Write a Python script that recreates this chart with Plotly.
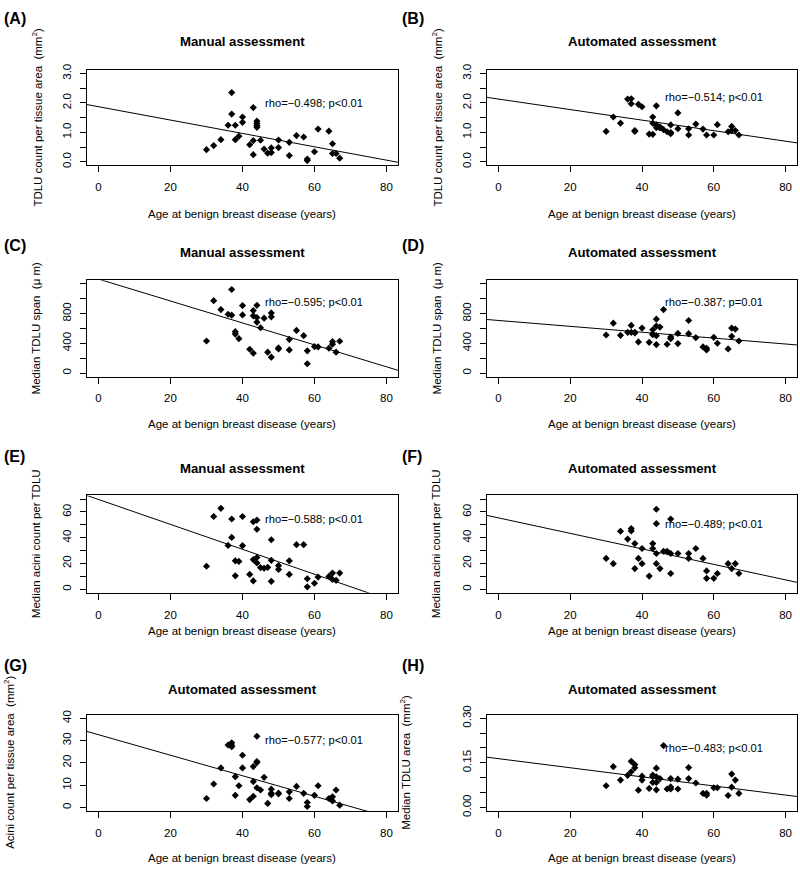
import plotly.graph_objects as go

# ---------------- data ----------------
age_A = [30,32,34,36,37,37,38,38,39,40,40,42,43,43,43,44,44,44,44,45,46,47,48,48,50,50,53,53,55,57,58,58,60,61,64,65,65,66,67]
val_A = [0.41,0.55,0.75,1.24,2.35,1.62,1.24,0.75,0.87,1.52,1.34,0.58,1.84,0.72,0.24,1.38,1.30,1.22,1.17,0.73,0.43,0.29,0.47,0.31,0.74,0.48,0.66,0.21,0.89,0.84,0.09,0.04,0.34,1.11,1.04,0.61,0.28,0.28,0.12]

age_B = [30,32,34,36,37,37,38,38,39,40,42,43,43,43,44,44,44,45,45,46,47,48,48,48,50,50,53,53,55,57,58,60,61,64,65,65,66,67]
val_B = [1.03,1.52,1.31,2.13,2.14,1.97,1.06,1.03,1.95,1.87,0.94,1.52,1.31,0.93,1.90,1.25,1.16,1.19,1.15,1.09,1.02,1.25,0.99,0.95,1.66,1.12,1.12,0.91,1.28,1.11,0.91,0.91,1.26,1.02,1.20,1.06,1.06,0.91]

age_C = [30,32,34,36,37,37,38,38,39,40,40,42,43,43,43,44,44,44,45,46,47,48,48,48,50,50,53,53,55,57,58,58,60,61,64,65,65,66,67]
val_C = [431,973,853,791,1124,778,556,524,462,907,782,320,840,769,267,911,747,684,609,738,280,809,756,213,338,324,453,311,573,502,298,124,356,351,333,422,387,280,427]

age_D = [30,32,34,36,37,37,38,38,39,40,42,43,43,43,44,44,44,44,45,46,47,48,48,50,50,53,53,55,57,58,58,60,61,64,65,65,66,67]
val_D = [511,671,507,547,640,547,547,540,418,604,413,582,524,515,724,631,502,382,618,853,387,484,462,533,396,707,529,476,351,333,311,480,400,324,604,493,591,431]

age_E = [30,32,34,36,37,37,38,38,39,40,40,42,43,43,43,44,44,44,44,45,46,47,48,48,48,50,50,53,53,55,57,58,58,60,61,64,65,65,66,67]
val_E = [17.8,56.5,62.8,34.0,54.5,40.2,22.0,10.4,21.6,56.5,33.8,11.5,52.4,23.0,6.4,53.7,46.6,24.7,20.4,16.8,16.3,17.0,38.4,22.4,6.1,18.3,15.3,22.0,11.5,34.6,34.6,8.1,1.8,4.6,9.4,9.9,12.5,7.6,6.9,12.5]

age_F = [30,32,34,36,37,37,38,38,39,40,40,42,43,43,44,44,44,44,45,46,47,48,48,48,50,53,53,55,57,58,58,60,61,64,65,66,67]
val_F = [23.9,19.8,45.0,38.9,47.1,45.3,35.4,16.0,23.9,31.6,19.8,10.2,35.4,31.6,62.1,50.9,27.7,19.8,16.0,29.5,29.5,54.5,27.7,12.2,27.7,27.7,23.9,31.6,23.9,14.2,8.4,8.4,12.2,19.8,16.0,19.8,12.2]

age_G = [30,32,34,36,37,37,37,38,38,39,40,40,42,43,43,43,44,44,44,44,45,46,47,48,48,48,50,50,53,53,55,57,58,58,60,61,64,65,65,66,67]
val_G = [4.0,10.5,17.7,28.0,29.0,27.8,27.2,13.8,5.4,9.7,23.4,17.7,3.5,18.3,11.6,5.0,31.9,20.6,20.1,8.8,7.8,13.5,1.8,8.2,6.4,5.7,6.4,6.1,7.0,4.0,9.4,6.3,2.2,0.4,5.4,9.7,4.0,4.8,2.9,7.8,1.0]

age_H = [30,32,34,36,37,37,38,38,39,40,40,42,43,43,43,44,44,44,44,45,46,47,48,48,48,50,50,53,53,55,57,58,58,60,61,64,65,65,66,67]
val_H = [0.073,0.137,0.092,0.108,0.155,0.120,0.144,0.133,0.058,0.105,0.092,0.064,0.109,0.104,0.084,0.132,0.103,0.084,0.059,0.097,0.208,0.062,0.097,0.069,0.062,0.095,0.062,0.134,0.097,0.082,0.047,0.047,0.041,0.066,0.066,0.040,0.112,0.068,0.092,0.047]

# fitted lines (intercept, slope)
fit_A = (1.87, -0.0227)
fit_B = (2.13, -0.0179)
fit_C = (1264, -14.76)
fit_D = (707, -3.96)
fit_E = (69.7, -0.968)
fit_F = (55.4, -0.602)
fit_G = (32.6, -0.46)
fit_H = (0.164, -0.00153)

rho_labels = ["rho=\u22120.498; p<0.01", "rho=\u22120.514; p<0.01", "rho=\u22120.595; p<0.01",
              "rho=\u22120.387; p=0.01", "rho=\u22120.588; p<0.01", "rho=\u22120.489; p<0.01",
              "rho=\u22120.577; p<0.01", "rho=\u22120.483; p<0.01"]
rho_y = [2.0, 2.2, 960, 960, 54.5, 51, 30.2, 0.20]
rho_x = 60

titles = ["Manual assessment", "Automated assessment", "Manual assessment", "Automated assessment",
          "Manual assessment", "Automated assessment", "Automated assessment", "Automated assessment"]
letters = ["(A)", "(B)", "(C)", "(D)", "(E)", "(F)", "(G)", "(H)"]
ylabels = ["TDLU count per tissue area  (mm<sup>2</sup>)", "TDLU count per tissue area  (mm<sup>2</sup>)",
           "Median TDLU span  (\u03bc m)", "Median TDLU span  (\u03bc m)",
           "Median acini count per TDLU", "Median acini count per TDLU",
           "Acini count per tissue area  (mm<sup>2</sup>)", "Median TDLU area  (mm<sup>2</sup>)"]
xlabel = "Age at benign breast disease (years)"
x_ticks = [0, 20, 40, 60, 80]

# labelled y ticks, their labels, and unlabelled y ticks
y_major = [[0, 1, 2, 3], [0, 1, 2, 3], [0, 400, 800], [0, 400, 800],
           [0, 20, 40, 60], [0, 20, 40, 60], [0, 10, 20, 30, 40], [0, 0.15, 0.30]]
y_major_text = [["0.0", "1.0", "2.0", "3.0"], ["0.0", "1.0", "2.0", "3.0"],
                ["0", "400", "800"], ["0", "400", "800"],
                ["0", "20", "40", "60"], ["0", "20", "40", "60"],
                ["0", "10", "20", "30", "40"], ["0.00", "0.15", "0.30"]]
y_minor = [[0.5, 1.5, 2.5], [0.5, 1.5, 2.5], [200, 600, 1000, 1200], [200, 600, 1000, 1200],
           [10, 30, 50, 70], [10, 30, 50, 70], [], [0.05, 0.10, 0.20, 0.25]]
y_lims = [(0, 3), (0, 3), (0, 1200), (0, 1200), (0, 70), (0, 70), (0, 40), (0, 0.30)]
x_lim = (0, 80)

ages = [age_A, age_B, age_C, age_D, age_E, age_F, age_G, age_H]
vals = [val_A, val_B, val_C, val_D, val_E, val_F, val_G, val_H]
fits = [fit_A, fit_B, fit_C, fit_D, fit_E, fit_F, fit_G, fit_H]

# ---------------- layout geometry (pixels) ----------------
W, H = 800, 873
col_x = [(87, 398), (487, 797)]
row_y = [(62, 159), (276, 374), (495, 594), (718, 816)]
title_y = [33, 248, 468, 692]
letter_y = [10, 241, 455, 668]
xlab_y = [209, 422, 633, 864]
ylab_x = [37, 437, 36, 437, 36, 436, 9, 405]

FONT = "Liberation Sans, Arial, Helvetica, sans-serif"

def fx(x):
    return x / W

def fy(y):
    return 1 - y / H

def ext(lo, hi):
    d = (hi - lo) * 0.04
    return [lo - d, hi + d]

fig = go.Figure()
annotations = []
layout = {}

for i in range(8):
    r, c = divmod(i, 2)
    k = "" if i == 0 else str(i + 1)
    xa, ya = "x" + k, "y" + k
    x0, x1 = col_x[c]
    y0, y1 = row_y[r]
    xr = ext(*x_lim)
    yr = ext(*y_lims[i])

    fig.add_trace(go.Scatter(
        x=ages[i], y=vals[i], mode="markers", xaxis=xa, yaxis=ya,
        marker=dict(symbol="diamond", size=5.5, color="black", line=dict(width=0)),
        showlegend=False, hoverinfo="skip"))
    b, m = fits[i]
    fig.add_trace(go.Scatter(
        x=[xr[0], xr[1]], y=[b + m * xr[0], b + m * xr[1]], mode="lines",
        xaxis=xa, yaxis=ya, line=dict(color="black", width=1),
        showlegend=False, hoverinfo="skip"))

    axcommon = dict(showline=True, mirror=True, linecolor="black", linewidth=1,
                    ticks="outside", ticklen=6, tickwidth=1, tickcolor="black",
                    showgrid=False, zeroline=False, ticklabeloverflow="allow",
                    tickfont=dict(family=FONT, size=11.5, color="black"))
    layout["xaxis" + k] = dict(domain=[fx(x0), fx(x1)], range=xr, anchor=ya,
                               tickmode="array", tickvals=x_ticks,
                               ticktext=[str(t) for t in x_ticks],
                               ticklabelstandoff=5, **axcommon)
    yax = dict(domain=[fy(y1), fy(y0)], range=yr, anchor=xa,
               tickmode="array", tickvals=y_major[i], ticktext=y_major_text[i],
               tickangle=-90, ticklabelstandoff=4, **axcommon)
    if y_minor[i]:
        yax["minor"] = dict(tickmode="array", tickvals=y_minor[i], ticks="outside",
                            ticklen=6, tickwidth=1, tickcolor="black", showgrid=False)
    layout["yaxis" + k] = yax

    cx = (x0 + x1) / 2
    annotations.append(dict(text="<b>" + titles[i] + "</b>", x=fx(cx), y=fy(title_y[r]),
                            xref="paper", yref="paper", xanchor="center", yanchor="middle",
                            showarrow=False, font=dict(family=FONT, size=13.2, color="black")))
    annotations.append(dict(text="<b>" + letters[i] + "</b>", x=fx(2 if c == 0 else 400),
                            y=fy(letter_y[r]), xref="paper", yref="paper",
                            xanchor="left", yanchor="middle", showarrow=False,
                            font=dict(family=FONT, size=16, color="black")))
    annotations.append(dict(text=xlabel, x=fx(cx), y=fy(xlab_y[r]), xref="paper", yref="paper",
                            xanchor="center", yanchor="middle", showarrow=False,
                            font=dict(family=FONT, size=11.5, color="black")))
    annotations.append(dict(text=ylabels[i], x=fx(ylab_x[i]), y=fy((y0 + y1) / 2),
                            xref="paper", yref="paper", xanchor="center", yanchor="middle",
                            textangle=-90, showarrow=False,
                            font=dict(family=FONT, size=11.5, color="black")))
    annotations.append(dict(text=rho_labels[i], x=rho_x, y=rho_y[i], xref=xa, yref=ya,
                            xanchor="center", yanchor="middle", showarrow=False,
                            font=dict(family=FONT, size=11.2, color="black")))

fig.update_layout(
    width=W, height=H, autosize=False, margin=dict(l=0, r=0, t=0, b=0, pad=0),
    paper_bgcolor="white", plot_bgcolor="white", hovermode=False,
    annotations=annotations, showlegend=False, **layout)

fig.write_html("out.html",
               config={"displayModeBar": False, "staticPlot": True},
               post_script="document.body.style.margin='0';document.body.style.overflow='hidden';")
